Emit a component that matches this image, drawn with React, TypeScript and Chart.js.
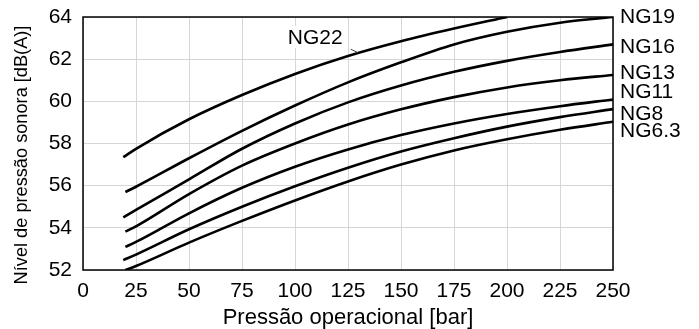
import React, { useEffect, useRef } from 'react';
import { Chart, registerables } from 'chart.js';

Chart.register(...registerables);

const seriesNames = ['NG22', 'NG19', 'NG16', 'NG13', 'NG11', 'NG8', 'NG6.3'];
const startPressures = [19, 20, 19, 20, 20, 19, 20];
const pressures = [25, 50, 75, 100, 125, 150, 175, 200, 225, 250];

const ng22 = [57.35, 57.75, 59.15, 60.3, 61.3, 62.15, 62.85, 63.45, 64.0];
const ng19 = [55.7, 55.95, 57.3, 58.6, 59.8, 60.9, 61.85, 62.7, 63.3, 63.73, 64.0];
const ng16 = [54.5, 54.85, 56.3, 57.75, 58.95, 59.95, 60.75, 61.4, 61.92, 62.34, 62.7];
const ng13 = [53.82, 54.07, 55.6, 56.95, 58.0, 58.9, 59.62, 60.2, 60.66, 61.0, 61.25];
const ng11 = [53.1, 53.33, 54.69, 55.9, 56.9, 57.72, 58.4, 58.95, 59.4, 59.77, 60.09];
const ng8 = [52.47, 52.73, 53.93, 55.0, 55.97, 56.85, 57.62, 58.25, 58.8, 59.25, 59.63];
const ng63 = [52.0, 52.19, 53.3, 54.33, 55.3, 56.2, 57.0, 57.67, 58.2, 58.65, 59.03];

const seriesValues = [ng22, ng19, ng16, ng13, ng11, ng8, ng63];

// right-hand labels (value where each label is centred)
const rightLabelNames = ['NG19', 'NG16', 'NG13', 'NG11', 'NG8', 'NG6.3'];
const rightLabelValues = [64.05, 62.63, 61.36, 60.49, 59.43, 58.65];

// inline NG22 label: pressure / level of text centre, and leader line ends
const ng22LabelAt = [109.5, 63.05];
const ng22Leader = [[126.3, 62.47], [129.7, 62.31]];

const xTicks = [0, 25, 50, 75, 100, 125, 150, 175, 200, 225, 250];
const yTicks = [52, 54, 56, 58, 60, 62, 64];

const xTitle = 'Pressão operacional [bar]';
const yTitle = 'Nível de pressão sonora [dB(A)]';

const FONT = '"Liberation Sans", Arial, sans-serif';

const annotations = {
  id: 'annotations',
  afterDatasetsDraw(chart: any) {
    const { ctx, chartArea, scales } = chart;
    const xs = scales.x;
    const ys = scales.y;
    ctx.save();
    // frame
    ctx.strokeStyle = '#000';
    ctx.lineWidth = 1.5;
    ctx.strokeRect(chartArea.left, chartArea.top, chartArea.right - chartArea.left, chartArea.bottom - chartArea.top);

    ctx.font = `21px ${FONT}`;
    ctx.fillStyle = '#000';
    ctx.textBaseline = 'middle';
    ctx.textAlign = 'left';
    rightLabelNames.forEach((n, i) => {
      ctx.fillText(n, chartArea.right + 7, ys.getPixelForValue(rightLabelValues[i]) + 1);
    });

    // NG22 inline label with white box
    const cx = xs.getPixelForValue(ng22LabelAt[0]);
    const cy = ys.getPixelForValue(ng22LabelAt[1]);
    const w = ctx.measureText('NG22').width;
    ctx.fillStyle = '#fff';
    ctx.fillRect(cx - w / 2 - 3, cy - 11, w + 6, 22);
    ctx.fillStyle = '#000';
    ctx.textAlign = 'center';
    ctx.fillText('NG22', cx, cy + 1);

    ctx.strokeStyle = '#444';
    ctx.lineWidth = 1;
    ctx.beginPath();
    ctx.moveTo(xs.getPixelForValue(ng22Leader[0][0]), ys.getPixelForValue(ng22Leader[0][1]));
    ctx.lineTo(xs.getPixelForValue(ng22Leader[1][0]), ys.getPixelForValue(ng22Leader[1][1]));
    ctx.stroke();

    // y axis title
    ctx.font = `18.2px ${FONT}`;
    ctx.translate(22, 155);
    ctx.rotate(-Math.PI / 2);
    ctx.textAlign = 'center';
    ctx.textBaseline = 'middle';
    ctx.fillText(yTitle, 0, 0);
    ctx.restore();
  },
};

export default function App() {
  const ref = useRef<HTMLCanvasElement>(null);
  useEffect(() => {
    if (!ref.current) return;
    const datasets = seriesValues.map((vals, i) => ({
      label: seriesNames[i],
      data: vals.map((v, j) => ({ x: j === 0 ? startPressures[i] : pressures[j - 1], y: v })),
      borderColor: '#000',
      borderWidth: 2.6,
      pointRadius: 0,
      fill: false,
      cubicInterpolationMode: 'monotone' as const,
      borderCapStyle: 'butt' as const,
    }));
    const chart = new Chart(ref.current, {
      type: 'line',
      data: { datasets },
      options: {
        animation: false,
        responsive: false,
        maintainAspectRatio: false,
        layout: { padding: { top: 17, right: 86, left: 0, bottom: 0 } },
        plugins: { legend: { display: false }, tooltip: { enabled: false } },
        scales: {
          x: {
            type: 'linear',
            min: 0,
            max: 250,
            afterBuildTicks: (s: any) => { s.ticks = xTicks.map((v) => ({ value: v })); },
            afterFit: (s: any) => { s.height = 59; s.paddingLeft = 0; s.paddingRight = 0; },
            grid: { color: '#d6d6d6', lineWidth: 1, drawTicks: false },
            border: { display: false },
            ticks: { color: '#000', font: { size: 21, family: FONT }, padding: 9, maxRotation: 0, autoSkip: false },
            title: { display: true, text: xTitle, color: '#000', font: { size: 22, family: FONT, lineHeight: 1 }, padding: { top: 0, bottom: 0 } },
          },
          y: {
            type: 'linear',
            min: 52,
            max: 64,
            afterBuildTicks: (s: any) => { s.ticks = yTicks.map((v) => ({ value: v })); },
            afterFit: (s: any) => { s.width = 83; s.paddingTop = 0; s.paddingBottom = 0; },
            grid: { color: '#d6d6d6', lineWidth: 1, drawTicks: false },
            border: { display: false },
            ticks: { color: '#000', font: { size: 21, family: FONT }, padding: 11, autoSkip: false },
          },
        },
      },
      plugins: [annotations],
    });
    return () => chart.destroy();
  }, []);
  return (
    <div style={{ position: 'fixed', left: 0, top: 0, width: 699, height: 329, background: '#fff' }}>
      <canvas ref={ref} width={699} height={329} style={{ width: 699, height: 329 }} />
    </div>
  );
}
